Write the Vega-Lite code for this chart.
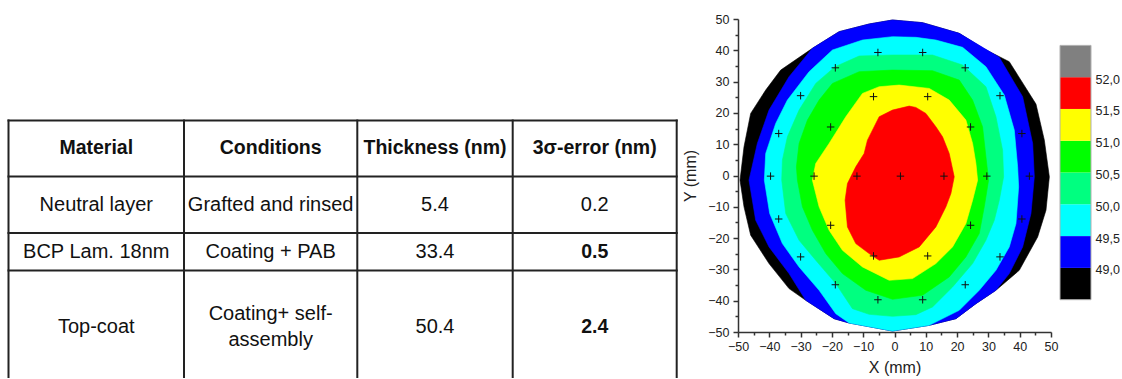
{
  "$schema": "https://vega.github.io/schema/vega-lite/v6.json",
  "padding": {"left": 0, "top": 13, "right": 0, "bottom": 0},
  "spacing": 1,
  "config": {
    "font": "Liberation Sans",
    "view": {"stroke": null},
    "axis": {"grid": false, "domainColor": "#333", "domainWidth": 1.5, "tickColor": "#333", "tickWidth": 1.5, "labelColor": "#222", "labelFont": "Liberation Sans", "labelFontSize": 12.5, "titleFont": "Liberation Sans", "titleFontSize": 16, "titleFontWeight": "normal", "titleColor": "#222"}
  },
  "datasets": {
    "tlines": [
      {"c1": -0.5, "c2": 3.5, "r1": -0.5, "r2": -0.5},
      {"c1": -0.5, "c2": 3.5, "r1": 0.5, "r2": 0.5},
      {"c1": -0.5, "c2": 3.5, "r1": 1.5, "r2": 1.5},
      {"c1": -0.5, "c2": 3.5, "r1": 2.5, "r2": 2.5},
      {"c1": -0.5, "c2": -0.5, "r1": -0.5, "r2": 3.5},
      {"c1": 0.5, "c2": 0.5, "r1": -0.5, "r2": 3.5},
      {"c1": 1.5, "c2": 1.5, "r1": -0.5, "r2": 3.5},
      {"c1": 2.5, "c2": 2.5, "r1": -0.5, "r2": 3.5},
      {"c1": 3.5, "c2": 3.5, "r1": -0.5, "r2": 3.5}
    ],
    "cells": [
      {"row": 0, "col": 0, "text": "Material", "emph": true},
      {"row": 0, "col": 1, "text": "Conditions", "emph": true},
      {"row": 0, "col": 2, "text": "Thickness (nm)", "emph": true},
      {"row": 0, "col": 3, "text": "3σ-error (nm)", "emph": true},
      {"row": 1, "col": 0, "text": "Neutral layer", "emph": false},
      {"row": 1, "col": 1, "text": "Grafted and rinsed", "emph": false},
      {"row": 1, "col": 2, "text": "5.4", "emph": false},
      {"row": 1, "col": 3, "text": "0.2", "emph": false},
      {"row": 2, "col": 0, "text": "BCP Lam. 18nm", "emph": false},
      {"row": 2, "col": 1, "text": "Coating + PAB", "emph": false},
      {"row": 2, "col": 2, "text": "33.4", "emph": false},
      {"row": 2, "col": 3, "text": "0.5", "emph": true},
      {"row": 3, "col": 0, "text": "Top-coat", "emph": false},
      {"row": 3, "col": 1, "text": "Coating+ self-\nassembly", "emph": false},
      {"row": 3, "col": 2, "text": "50.4", "emph": false},
      {"row": 3, "col": 3, "text": "2.4", "emph": true}
    ],
    "contour": [
      {"lv":48.5,"i":0,"x":-0.64,"y":49.68},{"lv":48.5,"i":1,"x":8.96,"y":48.83},{"lv":48.5,"i":2,"x":20.68,"y":45.42},{"lv":48.5,"i":3,"x":28.68,"y":40.41},{"lv":48.5,"i":4,"x":36.67,"y":36.35},{"lv":48.5,"i":5,"x":45.2,"y":22.81},{"lv":48.5,"i":6,"x":47.87,"y":11.3},{"lv":48.5,"i":7,"x":49.47,"y":-0.43},{"lv":48.5,"i":8,"x":48.4,"y":-11.09},{"lv":48.5,"i":9,"x":45.74,"y":-19.62},{"lv":48.5,"i":10,"x":39.87,"y":-30.28},{"lv":48.5,"i":11,"x":32.41,"y":-36.67},{"lv":48.5,"i":12,"x":26.01,"y":-40.94},{"lv":48.5,"i":13,"x":19.62,"y":-45.74},{"lv":48.5,"i":14,"x":11.09,"y":-47.87},{"lv":48.5,"i":15,"x":-0.64,"y":-49.68},{"lv":48.5,"i":16,"x":-14.5,"y":-47.12},{"lv":48.5,"i":17,"x":-19.3,"y":-45.74},{"lv":48.5,"i":18,"x":-28.36,"y":-39.87},{"lv":48.5,"i":19,"x":-33.69,"y":-36.14},{"lv":48.5,"i":20,"x":-40.09,"y":-28.14},{"lv":48.5,"i":21,"x":-45.95,"y":-19.08},{"lv":48.5,"i":22,"x":-48.08,"y":-10.02},{"lv":48.5,"i":23,"x":-49.36,"y":-1.49},{"lv":48.5,"i":24,"x":-48.08,"y":9.17},{"lv":48.5,"i":25,"x":-45.95,"y":19.83},{"lv":48.5,"i":26,"x":-41.15,"y":27.29},{"lv":48.5,"i":27,"x":-36.35,"y":33.69},{"lv":48.5,"i":28,"x":-26.23,"y":40.62},{"lv":48.5,"i":29,"x":-17.7,"y":45.95},{"lv":48.5,"i":30,"x":-8.1,"y":48.4},
      {"lv":49,"i":0,"x":-26.23,"y":40.62},{"lv":49,"i":1,"x":-17.7,"y":45.95},{"lv":49,"i":2,"x":-8.1,"y":48.4},{"lv":49,"i":3,"x":-0.64,"y":49.68},{"lv":49,"i":4,"x":8.96,"y":48.83},{"lv":49,"i":5,"x":20.68,"y":45.42},{"lv":49,"i":6,"x":33.48,"y":37.74},{"lv":49,"i":7,"x":40.94,"y":25.16},{"lv":49,"i":8,"x":44.14,"y":10.23},{"lv":49,"i":9,"x":44.67,"y":-0.43},{"lv":49,"i":10,"x":43.6,"y":-12.15},{"lv":49,"i":11,"x":40.94,"y":-22.81},{"lv":49,"i":12,"x":36.67,"y":-31.34},{"lv":49,"i":13,"x":32.41,"y":-36.67},{"lv":49,"i":14,"x":26.01,"y":-40.94},{"lv":49,"i":15,"x":19.62,"y":-45.74},{"lv":49,"i":16,"x":11.09,"y":-47.87},{"lv":49,"i":17,"x":-0.64,"y":-49.68},{"lv":49,"i":18,"x":-14.5,"y":-47.12},{"lv":49,"i":19,"x":-19.3,"y":-45.74},{"lv":49,"i":20,"x":-28.36,"y":-39.87},{"lv":49,"i":21,"x":-33.69,"y":-31.34},{"lv":49,"i":22,"x":-40.09,"y":-22.81},{"lv":49,"i":23,"x":-44.35,"y":-14.29},{"lv":49,"i":24,"x":-46.48,"y":-1.49},{"lv":49,"i":25,"x":-43.82,"y":10.23},{"lv":49,"i":26,"x":-40.09,"y":20.9},{"lv":49,"i":27,"x":-33.69,"y":31.56},
      {"lv":49.5,"i":0,"x":-0.64,"y":44.35},{"lv":49.5,"i":1,"x":6.82,"y":44.14},{"lv":49.5,"i":2,"x":13.22,"y":43.28},{"lv":49.5,"i":3,"x":21.75,"y":40.94},{"lv":49.5,"i":4,"x":29.21,"y":34.75},{"lv":49.5,"i":5,"x":35.07,"y":25.69},{"lv":49.5,"i":6,"x":38.27,"y":14.5},{"lv":49.5,"i":7,"x":39.34,"y":2.77},{"lv":49.5,"i":8,"x":39.66,"y":-3.62},{"lv":49.5,"i":9,"x":38.81,"y":-15.35},{"lv":49.5,"i":10,"x":36.67,"y":-22.81},{"lv":49.5,"i":11,"x":32.41,"y":-30.28},{"lv":49.5,"i":12,"x":27.08,"y":-36.67},{"lv":49.5,"i":13,"x":20.68,"y":-43.07},{"lv":49.5,"i":14,"x":11.09,"y":-47.87},{"lv":49.5,"i":15,"x":-0.64,"y":-49.68},{"lv":49.5,"i":16,"x":-14.5,"y":-47.12},{"lv":49.5,"i":17,"x":-18.76,"y":-44.14},{"lv":49.5,"i":18,"x":-24.09,"y":-36.67},{"lv":49.5,"i":19,"x":-30.49,"y":-29.21},{"lv":49.5,"i":20,"x":-35.82,"y":-21.75},{"lv":49.5,"i":21,"x":-39.87,"y":-12.15},{"lv":49.5,"i":22,"x":-41.58,"y":-1.49},{"lv":49.5,"i":23,"x":-41.15,"y":7.04},{"lv":49.5,"i":24,"x":-37.95,"y":16.63},{"lv":49.5,"i":25,"x":-34.22,"y":24.09},{"lv":49.5,"i":26,"x":-27.29,"y":33.16},{"lv":49.5,"i":27,"x":-19.83,"y":40.09},{"lv":49.5,"i":28,"x":-10.23,"y":43.28},
      {"lv":50,"i":0,"x":-0.64,"y":38.49},{"lv":50,"i":1,"x":12.15,"y":38.49},{"lv":50,"i":2,"x":21.75,"y":35.29},{"lv":50,"i":3,"x":29.21,"y":28.36},{"lv":50,"i":4,"x":32.41,"y":18.76},{"lv":50,"i":5,"x":34.54,"y":8.1},{"lv":50,"i":6,"x":34.86,"y":-0.43},{"lv":50,"i":7,"x":33.48,"y":-7.89},{"lv":50,"i":8,"x":31.88,"y":-14.29},{"lv":50,"i":9,"x":29.21,"y":-20.68},{"lv":50,"i":10,"x":24.95,"y":-28.14},{"lv":50,"i":11,"x":18.55,"y":-35.61},{"lv":50,"i":12,"x":12.15,"y":-42.0},{"lv":50,"i":13,"x":6.82,"y":-44.46},{"lv":50,"i":14,"x":-0.64,"y":-44.99},{"lv":50,"i":15,"x":-8.1,"y":-44.35},{"lv":50,"i":16,"x":-13.43,"y":-42.54},{"lv":50,"i":17,"x":-18.76,"y":-34.54},{"lv":50,"i":18,"x":-25.16,"y":-27.08},{"lv":50,"i":19,"x":-30.49,"y":-20.68},{"lv":50,"i":20,"x":-34.75,"y":-12.15},{"lv":50,"i":21,"x":-36.03,"y":-1.49},{"lv":50,"i":22,"x":-35.82,"y":4.9},{"lv":50,"i":23,"x":-34.22,"y":12.37},{"lv":50,"i":24,"x":-30.49,"y":20.9},{"lv":50,"i":25,"x":-25.16,"y":29.42},{"lv":50,"i":26,"x":-18.98,"y":34.75},{"lv":50,"i":27,"x":-11.3,"y":38.17},
      {"lv":50.5,"i":0,"x":-0.64,"y":33.69},{"lv":50.5,"i":1,"x":12.15,"y":33.48},{"lv":50.5,"i":2,"x":20.68,"y":30.49},{"lv":50.5,"i":3,"x":24.95,"y":24.09},{"lv":50.5,"i":4,"x":28.14,"y":15.56},{"lv":50.5,"i":5,"x":29.21,"y":5.97},{"lv":50.5,"i":6,"x":30.06,"y":-1.49},{"lv":50.5,"i":7,"x":28.68,"y":-10.02},{"lv":50.5,"i":8,"x":27.08,"y":-18.55},{"lv":50.5,"i":9,"x":22.81,"y":-26.01},{"lv":50.5,"i":10,"x":17.48,"y":-32.41},{"lv":50.5,"i":11,"x":8.96,"y":-38.27},{"lv":50.5,"i":12,"x":-0.64,"y":-39.55},{"lv":50.5,"i":13,"x":-9.17,"y":-36.67},{"lv":50.5,"i":14,"x":-16.63,"y":-31.34},{"lv":50.5,"i":15,"x":-21.96,"y":-24.95},{"lv":50.5,"i":16,"x":-26.23,"y":-17.48},{"lv":50.5,"i":17,"x":-29.42,"y":-10.02},{"lv":50.5,"i":18,"x":-31.02,"y":-1.49},{"lv":50.5,"i":19,"x":-31.34,"y":2.77},{"lv":50.5,"i":20,"x":-30.49,"y":10.23},{"lv":50.5,"i":21,"x":-27.82,"y":17.7},{"lv":50.5,"i":22,"x":-24.09,"y":24.09},{"lv":50.5,"i":23,"x":-19.83,"y":29.42},{"lv":50.5,"i":24,"x":-11.3,"y":33.16},
      {"lv":51,"i":0,"x":1.49,"y":28.89},{"lv":51,"i":1,"x":11.09,"y":27.82},{"lv":51,"i":2,"x":17.48,"y":24.09},{"lv":51,"i":3,"x":22.81,"y":17.7},{"lv":51,"i":4,"x":24.95,"y":10.23},{"lv":51,"i":5,"x":26.01,"y":3.84},{"lv":51,"i":6,"x":26.55,"y":-1.49},{"lv":51,"i":7,"x":24.95,"y":-7.89},{"lv":51,"i":8,"x":22.81,"y":-15.35},{"lv":51,"i":9,"x":18.55,"y":-22.81},{"lv":51,"i":10,"x":13.22,"y":-28.14},{"lv":51,"i":11,"x":5.76,"y":-32.94},{"lv":51,"i":12,"x":-1.71,"y":-33.48},{"lv":51,"i":13,"x":-10.23,"y":-29.21},{"lv":51,"i":14,"x":-16.63,"y":-23.88},{"lv":51,"i":15,"x":-20.9,"y":-17.48},{"lv":51,"i":16,"x":-24.09,"y":-10.02},{"lv":51,"i":17,"x":-26.23,"y":-1.49},{"lv":51,"i":18,"x":-25.16,"y":3.84},{"lv":51,"i":19,"x":-20.9,"y":10.23},{"lv":51,"i":20,"x":-15.56,"y":18.76},{"lv":51,"i":21,"x":-10.23,"y":26.23},{"lv":51,"i":22,"x":-4.9,"y":28.36},
      {"lv":51.5,"i":0,"x":4.69,"y":22.17},{"lv":51.5,"i":1,"x":6.82,"y":21.75},{"lv":51.5,"i":2,"x":10.02,"y":19.83},{"lv":51.5,"i":3,"x":13.22,"y":15.56},{"lv":51.5,"i":4,"x":15.35,"y":12.37},{"lv":51.5,"i":5,"x":17.48,"y":7.04},{"lv":51.5,"i":6,"x":19.08,"y":-0.43},{"lv":51.5,"i":7,"x":18.02,"y":-5.76},{"lv":51.5,"i":8,"x":16.42,"y":-10.02},{"lv":51.5,"i":9,"x":13.22,"y":-16.42},{"lv":51.5,"i":10,"x":7.89,"y":-22.81},{"lv":51.5,"i":11,"x":1.49,"y":-26.01},{"lv":51.5,"i":12,"x":-4.9,"y":-27.08},{"lv":51.5,"i":13,"x":-8.1,"y":-24.95},{"lv":51.5,"i":14,"x":-12.37,"y":-21.75},{"lv":51.5,"i":15,"x":-15.03,"y":-16.42},{"lv":51.5,"i":16,"x":-15.78,"y":-7.89},{"lv":51.5,"i":17,"x":-15.03,"y":-2.56},{"lv":51.5,"i":18,"x":-12.37,"y":2.77},{"lv":51.5,"i":19,"x":-9.7,"y":7.04},{"lv":51.5,"i":20,"x":-8.64,"y":11.3},{"lv":51.5,"i":21,"x":-4.9,"y":18.76},{"lv":51.5,"i":22,"x":-0.64,"y":20.9}
    ],
    "sites": [
      {"x": -5.3, "y": 39.3}, {"x": 9.0, "y": 39.3},
      {"x": -18.9, "y": 34.4}, {"x": 22.6, "y": 34.4},
      {"x": -30.0, "y": 25.5}, {"x": -6.7, "y": 25.2}, {"x": 10.6, "y": 25.2}, {"x": 33.7, "y": 25.5},
      {"x": -20.4, "y": 15.5}, {"x": 24.3, "y": 15.5},
      {"x": -37.0, "y": 13.4}, {"x": 40.7, "y": 13.4},
      {"x": -39.6, "y": -0.2}, {"x": -25.7, "y": -0.2}, {"x": -12.0, "y": -0.2}, {"x": 1.9, "y": -0.2}, {"x": 15.8, "y": -0.2}, {"x": 29.5, "y": -0.2}, {"x": 43.1, "y": -0.2},
      {"x": -37.0, "y": -13.9}, {"x": 40.7, "y": -13.9},
      {"x": -20.4, "y": -15.9}, {"x": 24.3, "y": -15.9},
      {"x": -30.0, "y": -26.0}, {"x": -6.7, "y": -25.7}, {"x": 10.6, "y": -25.7}, {"x": 33.7, "y": -26.0},
      {"x": -18.9, "y": -34.9}, {"x": 22.6, "y": -34.9},
      {"x": -5.3, "y": -39.7}, {"x": 9.0, "y": -39.7}
    ],
    "bands": [
      {"lv": 48.5, "hi": 49.0}, {"lv": 49.0, "hi": 49.5}, {"lv": 49.5, "hi": 50.0}, {"lv": 50.0, "hi": 50.5},
      {"lv": 50.5, "hi": 51.0}, {"lv": 51.0, "hi": 51.5}, {"lv": 51.5, "hi": 52.0}, {"lv": 52.0, "hi": 52.5}
    ],
    "frame": [{"lv": 48.5, "hi": 52.5}]
  },
  "hconcat": [
    {
      "width": 680.5,
      "height": 358,
      "layer": [
        {
          "data": {"name": "tlines"},
          "mark": {"type": "rule", "color": "#222", "strokeWidth": 2, "strokeCap": "square"},
          "encoding": {
            "x": {"field": "c1", "type": "quantitative", "axis": null, "scale": {"domain": [-0.5, 0.5, 1.5, 2.5, 3.5], "range": [8.5, 184, 357.3, 512.7, 676.7], "nice": false, "zero": false}},
            "x2": {"field": "c2"},
            "y": {"field": "r1", "type": "quantitative", "axis": null, "scale": {"domain": [-0.5, 0.5, 1.5, 2.5, 3, 3.5], "range": [101.4, 157.4, 214, 251.4, 308, 358], "nice": false, "zero": false}},
            "y2": {"field": "r2"}
          }
        },
        {
          "data": {"name": "cells"},
          "transform": [{"filter": "!datum.emph && indexof(datum.text, '\\n') < 0"}],
          "mark": {"type": "text", "fontSize": 20, "color": "#111"},
          "encoding": {
            "x": {"field": "col", "type": "quantitative"},
            "y": {"field": "row", "type": "quantitative"},
            "text": {"field": "text"}
          }
        },
        {
          "data": {"name": "cells"},
          "transform": [{"filter": "indexof(datum.text, '\\n') >= 0"}],
          "mark": {"type": "text", "fontSize": 20, "color": "#111", "lineBreak": "\n", "lineHeight": 26, "dy": -13},
          "encoding": {
            "x": {"field": "col", "type": "quantitative"},
            "y": {"field": "row", "type": "quantitative"},
            "text": {"field": "text"}
          }
        },
        {
          "data": {"name": "cells"},
          "transform": [{"filter": "datum.emph"}],
          "mark": {"type": "text", "fontSize": 19.5, "fontWeight": "bold", "color": "#111"},
          "encoding": {
            "x": {"field": "col", "type": "quantitative"},
            "y": {"field": "row", "type": "quantitative"},
            "text": {"field": "text"}
          }
        }
      ]
    },
    {
      "width": 313,
      "height": 313,
      "layer": [
        {
          "data": {"name": "contour"},
          "encoding": {
            "x": {"field": "x", "type": "quantitative", "scale": {"domain": [-50, 50], "nice": false, "zero": false},
                  "axis": {"orient": "bottom", "values": [-50, -40, -30, -20, -10, 0, 10, 20, 30, 40, 50], "tickSize": 5, "labelPadding": 3, "labelFlush": false, "labelOverlap": false, "title": "X (mm)", "titlePadding": 7}},
            "y": {"field": "y", "type": "quantitative", "scale": {"domain": [-50, 50], "nice": false, "zero": false},
                  "axis": {"orient": "left", "values": [-50, -40, -30, -20, -10, 0, 10, 20, 30, 40, 50], "tickSize": 5, "labelPadding": 4, "labelFlush": false, "labelOverlap": false, "title": "Y (mm)", "titlePadding": 9}},
            "order": {"field": "i", "type": "quantitative"},
            "fill": {"field": "lv", "type": "ordinal", "legend": null, "scale": {"domain": [48.5, 49, 49.5, 50, 50.5, 51, 51.5, 52], "range": ["#000000", "#0000ff", "#00ffff", "#00ff80", "#00ff00", "#ffff00", "#ff0000", "#808080"]}},
            "stroke": {"field": "lv", "type": "ordinal", "legend": null, "scale": {"domain": [48.5, 49, 49.5, 50, 50.5, 51, 51.5, 52], "range": ["#000000", "#0000ff", "#00ffff", "#00ff80", "#00ff00", "#ffff00", "#ff0000", "#808080"]}}
          },
          "layer": [
            {"transform": [{"filter": "datum.lv == 48.5"}], "mark": {"type": "line", "interpolate": "linear-closed", "strokeWidth": 0.6}},
            {"transform": [{"filter": "datum.lv == 49"}], "mark": {"type": "line", "interpolate": "linear-closed", "strokeWidth": 0.6}},
            {"transform": [{"filter": "datum.lv == 49.5"}], "mark": {"type": "line", "interpolate": "linear-closed", "strokeWidth": 0.6}},
            {"transform": [{"filter": "datum.lv == 50"}], "mark": {"type": "line", "interpolate": "linear-closed", "strokeWidth": 0.6}},
            {"transform": [{"filter": "datum.lv == 50.5"}], "mark": {"type": "line", "interpolate": "linear-closed", "strokeWidth": 0.6}},
            {"transform": [{"filter": "datum.lv == 51"}], "mark": {"type": "line", "interpolate": "linear-closed", "strokeWidth": 0.6}},
            {"transform": [{"filter": "datum.lv == 51.5"}], "mark": {"type": "line", "interpolate": "linear-closed", "strokeWidth": 0.6}}
          ]
        },
        {
          "data": {"name": "sites"},
          "mark": {"type": "point", "shape": "M-1,0L1,0M0,-1L0,1", "size": 56, "filled": false, "stroke": "#111", "strokeWidth": 1, "opacity": 1},
          "encoding": {
            "x": {"field": "x", "type": "quantitative", "scale": {"domain": [-50, 50], "nice": false, "zero": false},
                  "axis": {"orient": "bottom", "values": [-45, -35, -25, -15, -5, 5, 15, 25, 35, 45], "tickSize": 3, "labels": false, "domain": false, "title": null}},
            "y": {"field": "y", "type": "quantitative", "scale": {"domain": [-50, 50], "nice": false, "zero": false},
                  "axis": {"orient": "left", "values": [-45, -35, -25, -15, -5, 5, 15, 25, 35, 45], "tickSize": 3, "labels": false, "domain": false, "title": null}}
          }
        }
      ],
      "resolve": {"axis": {"x": "independent", "y": "independent"}}
    },
    {
      "width": 31,
      "height": 313,
      "layer": [
        {
          "data": {"name": "bands"},
          "mark": {"type": "rect"},
          "encoding": {
            "y": {"field": "lv", "type": "quantitative", "scale": {"domain": [47.992, 52.915], "nice": false, "zero": false},
                  "axis": {"orient": "right", "values": [49, 49.5, 50, 50.5, 51, 51.5, 52], "labelExpr": "replace(format(datum.value, '.1f'), '.', ',')", "ticks": false, "domain": false, "title": null, "labelPadding": 4, "labelFontSize": 12.5, "labelOffset": 2}},
            "y2": {"field": "hi"},
            "fill": {"field": "lv", "type": "ordinal", "legend": null, "scale": {"domain": [48.5, 49, 49.5, 50, 50.5, 51, 51.5, 52], "range": ["#000000", "#0000ff", "#00ffff", "#00ff80", "#00ff00", "#ffff00", "#ff0000", "#808080"]}}
          }
        },
        {
          "data": {"name": "frame"},
          "mark": {"type": "rect", "fill": null, "stroke": "#b0b0b0", "strokeWidth": 1},
          "encoding": {
            "y": {"field": "lv", "type": "quantitative"},
            "y2": {"field": "hi"}
          }
        }
      ]
    }
  ]
}
